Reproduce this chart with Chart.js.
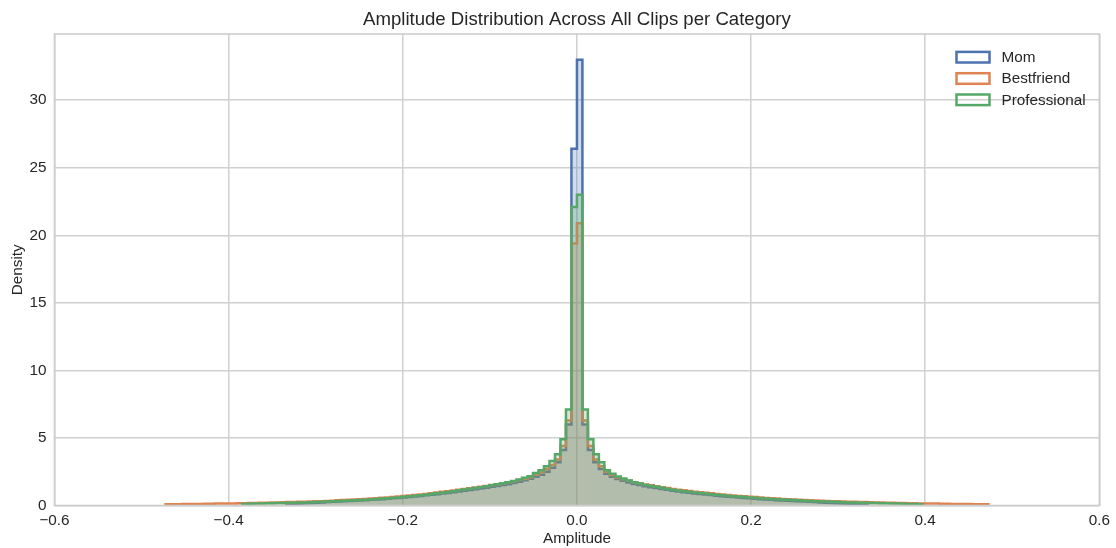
<!DOCTYPE html>
<html><head><meta charset="utf-8">
<script src="https://cdn.jsdelivr.net/npm/chart.js@4.4.1/dist/chart.umd.min.js"></script>
<style>html,body{margin:0;padding:0;background:#fff}#wrap{width:1116px;height:548px;position:relative}</style>
</head><body><div id="wrap"><canvas id="c" width="1116" height="548"></canvas></div>
<script>
// ---- data (density per amplitude bin) ----
const binWidth = 0.0063;
const seriesNames = ['Mom', 'Bestfriend', 'Professional'];
const seriesColors = ['#4C72B0', '#DD8452', '#55A868'];

const momFirstEdge = -0.3339;
const momDensity = [
  0.11,0.13,0.15,0.17,0.19,0.21,0.23,0.25,0.27,0.29,0.31,0.33,0.35,0.37,0.39,0.42,0.44,0.47,0.50,0.53,
  0.56,0.60,0.63,0.67,0.71,0.75,0.79,0.83,0.88,0.93,0.98,1.03,1.09,1.14,1.20,1.26,1.32,1.38,1.44,1.51,
  1.58,1.66,1.75,1.86,1.98,2.12,2.28,2.5,2.8,3.2,4.1,6.0,26.4,
  33.0,6.0,4.1,3.2,2.7,2.35,2.12,1.96,1.83,1.71,1.60,1.51,1.43,1.36,1.29,1.22,1.16,1.10,1.04,0.99,
  0.94,0.89,0.85,0.81,0.77,0.73,0.69,0.65,0.62,0.59,0.56,0.53,0.50,0.47,0.44,0.42,0.39,0.37,0.35,0.33,
  0.31,0.29,0.27,0.25,0.23,0.21,0.19,0.17,0.15,0.13,0.11,0.10,0.09
];

const bestfriendFirstEdge = -0.4725;
const bestfriendDensity = [
  0.10,0.10,0.10,0.11,0.11,0.12,0.12,0.13,0.13,0.14,0.14,0.15,0.15,0.16,0.17,0.18,0.19,0.20,0.21,0.22,
  0.23,0.24,0.25,0.26,0.27,0.28,0.29,0.31,0.32,0.34,0.36,0.38,0.40,0.42,0.44,0.46,0.48,0.51,0.54,0.57,
  0.60,0.63,0.66,0.70,0.74,0.78,0.82,0.86,0.91,0.96,1.01,1.06,1.11,1.17,1.22,1.27,1.33,1.39,1.45,1.51,
  1.58,1.65,1.72,1.80,1.88,1.98,2.1,2.3,2.45,2.7,3.0,3.4,4.4,6.3,19.4,
  20.9,6.3,4.4,3.4,2.9,2.5,2.25,2.08,1.95,1.83,1.73,1.64,1.56,1.49,1.42,1.35,1.29,1.23,1.17,1.12,
  1.07,1.02,0.98,0.94,0.90,0.86,0.82,0.78,0.74,0.71,0.68,0.65,0.62,0.59,0.56,0.53,0.51,0.49,0.47,0.45,
  0.43,0.41,0.39,0.37,0.35,0.34,0.32,0.31,0.29,0.28,0.27,0.26,0.25,0.24,0.23,0.22,0.21,0.20,0.19,0.18,
  0.17,0.16,0.15,0.15,0.14,0.14,0.13,0.13,0.12,0.12,0.11,0.11,0.10,0.10,0.10
];

const professionalFirstEdge = -0.3843;
const professionalDensity = [
  0.12,0.13,0.14,0.15,0.16,0.17,0.18,0.19,0.20,0.21,0.22,0.23,0.24,0.26,0.27,0.29,0.31,0.33,0.35,0.37,
  0.39,0.41,0.43,0.45,0.48,0.51,0.54,0.57,0.60,0.64,0.68,0.72,0.76,0.80,0.85,0.90,0.95,1.00,1.06,1.12,
  1.18,1.24,1.30,1.36,1.43,1.50,1.57,1.65,1.73,1.82,1.92,2.05,2.17,2.4,2.6,2.9,3.3,3.8,4.9,7.1,22.1,
  23.0,7.1,4.9,3.8,3.2,2.6,2.35,2.15,2.0,1.85,1.72,1.62,1.52,1.45,1.38,1.31,1.24,1.17,1.11,1.06,
  1.01,0.96,0.92,0.88,0.84,0.80,0.76,0.72,0.69,0.66,0.63,0.60,0.57,0.54,0.51,0.49,0.46,0.44,0.42,0.40,
  0.38,0.36,0.34,0.32,0.30,0.29,0.27,0.26,0.24,0.23,0.22,0.21,0.20,0.19,0.18,0.17,0.16,0.15,0.14,0.13,
  0.12,0.11,0.10
];

const xTickValues = [-0.6, -0.4, -0.2, 0, 0.2, 0.4, 0.6];
const yTickValues = [0, 5, 10, 15, 20, 25, 30];
const chartTitle = 'Amplitude Distribution Across All Clips per Category';
const xLabel = 'Amplitude';
const yLabel = 'Density';

// ---- build step outlines ----
function stepPoints(firstEdge, vals) {
  const pts = [{x: firstEdge, y: 0}];
  vals.forEach((v, i) => pts.push({x: firstEdge + i * binWidth, y: v}));
  pts.push({x: firstEdge + vals.length * binWidth, y: 0});
  return pts;
}
function rgba(hex, a) {
  const n = parseInt(hex.slice(1), 16);
  return `rgba(${n >> 16},${(n >> 8) & 255},${n & 255},${a})`;
}
const seriesData = [
  stepPoints(momFirstEdge, momDensity),
  stepPoints(bestfriendFirstEdge, bestfriendDensity),
  stepPoints(professionalFirstEdge, professionalDensity)
];
const FONT = '"Liberation Sans", Arial, sans-serif';
const TXT = '#262626';

const decorPlugin = {
  id: 'decor',
  afterDatasetsDraw(chart) {
    const {ctx, chartArea: a} = chart;
    ctx.save();
    ctx.strokeStyle = '#cccccc';
    ctx.lineWidth = 1.6;
    ctx.strokeRect(a.left, a.top, a.right - a.left, a.bottom - a.top);
    ctx.restore();
  },
  afterDraw(chart) {
    const {ctx, chartArea: a} = chart;
    ctx.save();
    ctx.fillStyle = TXT;
    ctx.font = `18.6px ${FONT}`;
    ctx.textAlign = 'center';
    ctx.textBaseline = 'middle';
    ctx.fillText(chartTitle, (a.left + a.right) / 2, 19.5);
    // legend
    ctx.font = `15.3px ${FONT}`;
    ctx.textAlign = 'left';
    seriesNames.forEach((name, i) => {
      const cy = 57.2 + i * 21.3;
      ctx.strokeStyle = seriesColors[i];
      ctx.lineWidth = 2.5;
      ctx.strokeRect(956.5, cy - 5.3, 33, 10.6);
      ctx.fillStyle = TXT;
      ctx.fillText(name, 1001.5, cy + 0.5);
    });
    ctx.restore();
  }
};

new Chart(document.getElementById('c'), {
  type: 'line',
  data: {
    datasets: seriesNames.map((name, i) => ({
      label: name,
      data: seriesData[i],
      stepped: 'before',
      borderColor: seriesColors[i],
      backgroundColor: rgba(seriesColors[i], 0.26),
      borderWidth: 2.5,
      pointRadius: 0,
      pointHoverRadius: 0,
      fill: 'origin',
      tension: 0,
      order: 3 - i
    }))
  },
  options: {
    responsive: false,
    devicePixelRatio: 1,
    animation: false,
    events: [],
    layout: {padding: {left: 0, right: 13.5, top: 34, bottom: 0}},
    plugins: {legend: {display: false}, title: {display: false}, tooltip: {enabled: false}},
    scales: {
      x: {
        type: 'linear', min: -0.6, max: 0.6,
        afterBuildTicks: s => { s.ticks = xTickValues.map(v => ({value: v})); },
        afterFit: s => { s.height = 42.5; },
        ticks: {
          color: TXT, font: {family: FONT, size: 15.3}, padding: 6, maxRotation: 0,
          callback: v => (Math.abs(v) < 1e-9 ? '0.0' : v.toFixed(1).replace('-', '\u2212'))
        },
        grid: {color: '#d0d0d0', lineWidth: 1.5, drawTicks: false},
        border: {display: false},
        title: {display: true, text: xLabel, color: TXT, font: {family: FONT, size: 15.3}, padding: {top: 2, bottom: 0}}
      },
      y: {
        type: 'linear', min: 0, max: 34.9,
        afterBuildTicks: s => { s.ticks = yTickValues.map(v => ({value: v})); },
        afterFit: s => { s.width = 54.5; },
        ticks: {color: TXT, font: {family: FONT, size: 15.3}, padding: 8, callback: v => String(v)},
        grid: {color: '#d0d0d0', lineWidth: 1.5, drawTicks: false},
        border: {display: false},
        title: {display: true, text: yLabel, color: TXT, font: {family: FONT, size: 15.3}, padding: {top: 9, bottom: 0}}
      }
    }
  },
  plugins: [decorPlugin]
});
</script></body></html>
